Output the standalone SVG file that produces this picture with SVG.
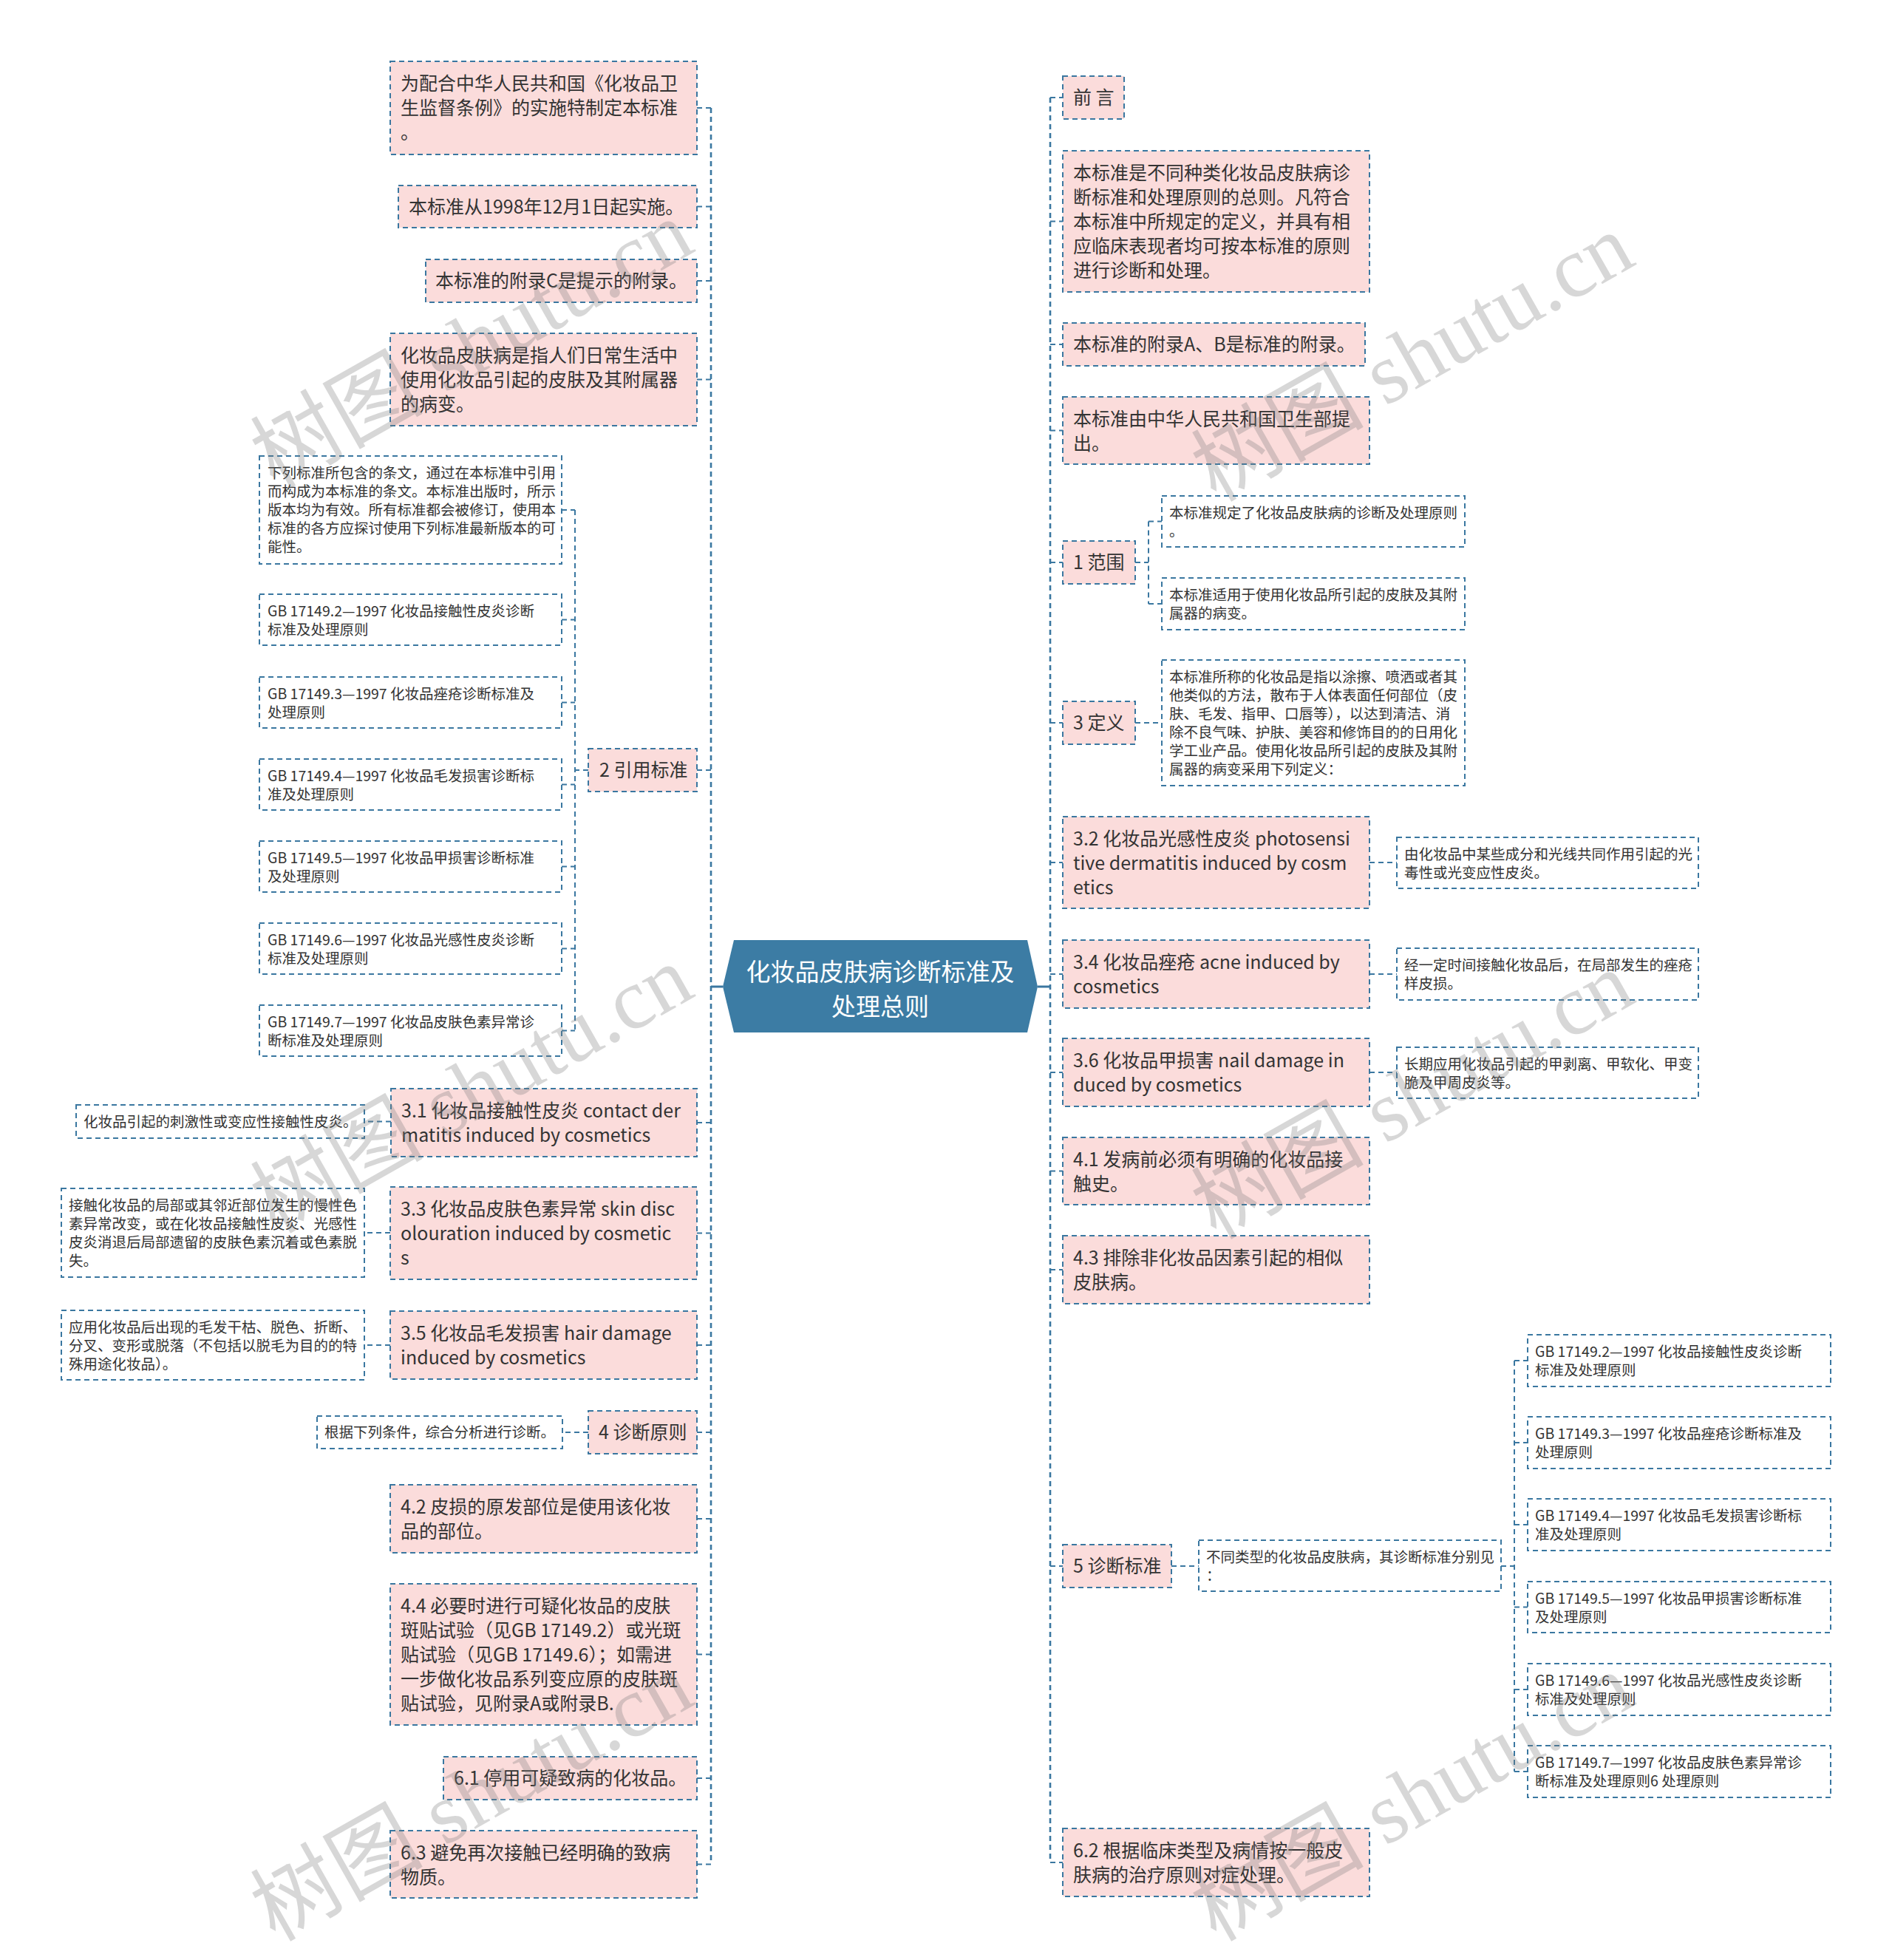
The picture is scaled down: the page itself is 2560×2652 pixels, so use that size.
<svg xmlns="http://www.w3.org/2000/svg" width="2560" height="2652" viewBox="0 0 2560 2652">
<style>
.bg{fill:#ffffff}
.n rect{fill:#fbdcdb;stroke:#3a77a0;stroke-width:2;stroke-dasharray:7 5}
.s rect{fill:#ffffff;stroke:#3a77a0;stroke-width:2;stroke-dasharray:7 5}
.n text{font-family:"Noto Sans CJK SC","Noto Sans",sans-serif;font-size:25px;fill:#333333}
.s text{font-family:"Noto Sans CJK SC","Noto Sans",sans-serif;font-size:19.5px;fill:#333333}
.c path{fill:none;stroke:#3a77a0;stroke-width:2;stroke-dasharray:7 5}
.c path.trunk{stroke-width:2.6}
.c path.solid{stroke-dasharray:none;stroke-width:3}
.wm text{font-family:"Liberation Serif","Noto Sans CJK SC",serif;font-size:117px;fill:#7a7a7a;fill-opacity:0.3}
#root polygon{fill:#3c7ca4}
#root text{font-family:"Noto Sans CJK SC","Noto Sans",sans-serif;font-size:33px;fill:#ffffff;text-anchor:middle}
</style>
<rect class="bg" x="0" y="0" width="2560" height="2652"/>

<g id="connectors" class="c">
<path class="trunk" d="M962,146 V2522"/>
<path class="trunk" d="M1421,132 V2520"/>
<path class="solid" d="M978,1335 H962"/>
<path class="solid" d="M1404,1335 H1421"/>
<path d="M943,146 H962"/>
<path d="M943,279.5 H962"/>
<path d="M943,380 H962"/>
<path d="M943,513.5 H962"/>
<path d="M943,1042 H962"/>
<path d="M943,1519 H962"/>
<path d="M943,1668.5 H962"/>
<path d="M943,1820 H962"/>
<path d="M943,1938 H962"/>
<path d="M943,2055 H962"/>
<path d="M943,2238.5 H962"/>
<path d="M943,2406 H962"/>
<path d="M943,2522.5 H962"/>
<path d="M1421,132 H1438"/>
<path d="M1421,299.5 H1438"/>
<path d="M1421,466 H1438"/>
<path d="M1421,582.5 H1438"/>
<path d="M1421,761 H1438"/>
<path d="M1421,978 H1438"/>
<path d="M1421,1167 H1438"/>
<path d="M1421,1318 H1438"/>
<path d="M1421,1451 H1438"/>
<path d="M1421,1584.5 H1438"/>
<path d="M1421,1718 H1438"/>
<path d="M1421,2119 H1438"/>
<path d="M1421,2520 H1438"/>
<path d="M796,1042 H778"/>
<path d="M778,690 V1394.5"/>
<path d="M760,690 H778"/>
<path d="M760,838.5 H778"/>
<path d="M760,950.5 H778"/>
<path d="M760,1061.5 H778"/>
<path d="M760,1172.5 H778"/>
<path d="M760,1283.5 H778"/>
<path d="M760,1394.5 H778"/>
<path d="M529,1517.5 H493"/>
<path d="M528,1668 H493"/>
<path d="M528,1820 H493"/>
<path d="M796,1938 H761"/>
<path d="M1536,761 H1554"/>
<path d="M1554,705.5 V817"/>
<path d="M1554,705.5 H1572"/>
<path d="M1554,817 H1572"/>
<path d="M1536,978 H1572"/>
<path d="M1853,1167 H1890"/>
<path d="M1853,1318 H1890"/>
<path d="M1853,1451 H1890"/>
<path d="M1585,2119 H1622"/>
<path d="M2031,2119 H2049"/>
<path d="M2049,1841 V2397"/>
<path d="M2049,1841 H2067"/>
<path d="M2049,1952 H2067"/>
<path d="M2049,2063 H2067"/>
<path d="M2049,2174.5 H2067"/>
<path d="M2049,2286 H2067"/>
<path d="M2049,2397 H2067"/>
</g>

<g id="root">
<polygon points="993,1272 1390,1272 1404,1335 1390,1397 993,1397 978,1335"/>
<text x="1191" y="1327">化妆品皮肤病诊断标准及</text>
<text x="1191" y="1374">处理总则</text>
</g>

<!-- Left side -->
<g id="L1" class="n"><rect x="528" y="83" width="415" height="126"/>
<text x="542"><tspan x="542" y="121.5">为配合中华人民共和国《化妆品卫</tspan><tspan x="542" y="154.5">生监督条例》的实施特制定本标准</tspan><tspan x="542" y="187.5">。</tspan></text></g>
<g id="L2" class="n"><rect x="539" y="251" width="404" height="57"/>
<text x="553" y="288.5">本标准从1998年12月1日起实施。</text></g>
<g id="L3" class="n"><rect x="576" y="351" width="367" height="58"/>
<text x="589" y="389">本标准的附录C是提示的附录。</text></g>
<g id="L4" class="n"><rect x="528" y="451" width="415" height="125"/>
<text x="542"><tspan x="542" y="489.5">化妆品皮肤病是指人们日常生活中</tspan><tspan x="542" y="522.5">使用化妆品引起的皮肤及其附属器</tspan><tspan x="542" y="555.5">的病变。</tspan></text></g>

<g id="L5" class="n"><rect x="796" y="1013" width="147" height="58"/>
<text x="811" y="1051">2 引用标准</text></g>
<g id="L5a" class="s"><rect x="351" y="617" width="409" height="146"/>
<text x="362"><tspan x="362" y="646.5">下列标准所包含的条文，通过在本标准中引用</tspan><tspan x="362" y="671.5">而构成为本标准的条文。本标准出版时，所示</tspan><tspan x="362" y="696.5">版本均为有效。所有标准都会被修订，使用本</tspan><tspan x="362" y="721.5">标准的各方应探讨使用下列标准最新版本的可</tspan><tspan x="362" y="746.5">能性。</tspan></text></g>
<g id="L5b" class="s"><rect x="351" y="804" width="409" height="69"/>
<text x="362"><tspan x="362" y="833.5">GB 17149.2—1997 化妆品接触性皮炎诊断</tspan><tspan x="362" y="858.5">标准及处理原则</tspan></text></g>
<g id="L5c" class="s"><rect x="351" y="916" width="409" height="69"/>
<text x="362"><tspan x="362" y="945.5">GB 17149.3—1997 化妆品痤疮诊断标准及</tspan><tspan x="362" y="970.5">处理原则</tspan></text></g>
<g id="L5d" class="s"><rect x="351" y="1027" width="409" height="69"/>
<text x="362"><tspan x="362" y="1056.5">GB 17149.4—1997 化妆品毛发损害诊断标</tspan><tspan x="362" y="1081.5">准及处理原则</tspan></text></g>
<g id="L5e" class="s"><rect x="351" y="1138" width="409" height="69"/>
<text x="362"><tspan x="362" y="1167.5">GB 17149.5—1997 化妆品甲损害诊断标准</tspan><tspan x="362" y="1192.5">及处理原则</tspan></text></g>
<g id="L5f" class="s"><rect x="351" y="1249" width="409" height="69"/>
<text x="362"><tspan x="362" y="1278.5">GB 17149.6—1997 化妆品光感性皮炎诊断</tspan><tspan x="362" y="1303.5">标准及处理原则</tspan></text></g>
<g id="L5g" class="s"><rect x="351" y="1360" width="409" height="69"/>
<text x="362"><tspan x="362" y="1389.5">GB 17149.7—1997 化妆品皮肤色素异常诊</tspan><tspan x="362" y="1414.5">断标准及处理原则</tspan></text></g>

<g id="L6" class="n"><rect x="529" y="1473" width="414" height="92"/>
<text x="543"><tspan x="543" y="1511.5">3.1 化妆品接触性皮炎 contact der</tspan><tspan x="543" y="1544.5">matitis induced by cosmetics</tspan></text></g>
<g id="L6a" class="s"><rect x="103" y="1495" width="390" height="45"/>
<text x="113" y="1524.5">化妆品引起的刺激性或变应性接触性皮炎。</text></g>

<g id="L7" class="n"><rect x="528" y="1606" width="415" height="125"/>
<text x="542"><tspan x="542" y="1644.5">3.3 化妆品皮肤色素异常 skin disc</tspan><tspan x="542" y="1677.5">olouration induced by cosmetic</tspan><tspan x="542" y="1710.5">s</tspan></text></g>
<g id="L7a" class="s"><rect x="83" y="1608" width="410" height="120"/>
<text x="93"><tspan x="93" y="1637.5">接触化妆品的局部或其邻近部位发生的慢性色</tspan><tspan x="93" y="1662.5">素异常改变，或在化妆品接触性皮炎、光感性</tspan><tspan x="93" y="1687.5">皮炎消退后局部遗留的皮肤色素沉着或色素脱</tspan><tspan x="93" y="1712.5">失。</tspan></text></g>

<g id="L8" class="n"><rect x="528" y="1774" width="415" height="92"/>
<text x="542"><tspan x="542" y="1812.5">3.5 化妆品毛发损害 hair damage</tspan><tspan x="542" y="1845.5">induced by cosmetics</tspan></text></g>
<g id="L8a" class="s"><rect x="83" y="1773" width="410" height="94"/>
<text x="93"><tspan x="93" y="1802.5">应用化妆品后出现的毛发干枯、脱色、折断、</tspan><tspan x="93" y="1827.5">分叉、变形或脱落（不包括以脱毛为目的的特</tspan><tspan x="93" y="1852.5">殊用途化妆品）。</tspan></text></g>

<g id="L9" class="n"><rect x="796" y="1909" width="147" height="58"/>
<text x="810" y="1947">4 诊断原则</text></g>
<g id="L9a" class="s"><rect x="429" y="1916" width="332" height="44"/>
<text x="439" y="1945">根据下列条件，综合分析进行诊断。</text></g>

<g id="L10" class="n"><rect x="528" y="2009" width="415" height="92"/>
<text x="542"><tspan x="542" y="2047.5">4.2 皮损的原发部位是使用该化妆</tspan><tspan x="542" y="2080.5">品的部位。</tspan></text></g>
<g id="L11" class="n"><rect x="528" y="2143" width="415" height="191"/>
<text x="542"><tspan x="542" y="2181.5">4.4 必要时进行可疑化妆品的皮肤</tspan><tspan x="542" y="2214.5">斑贴试验（见GB 17149.2）或光斑</tspan><tspan x="542" y="2247.5">贴试验（见GB 17149.6）；如需进</tspan><tspan x="542" y="2280.5">一步做化妆品系列变应原的皮肤斑</tspan><tspan x="542" y="2313.5">贴试验，见附录A或附录B.</tspan></text></g>
<g id="L12" class="n"><rect x="600" y="2377" width="343" height="58"/>
<text x="614" y="2415">6.1 停用可疑致病的化妆品。</text></g>
<g id="L13" class="n"><rect x="528" y="2477" width="415" height="91"/>
<text x="542"><tspan x="542" y="2515.5">6.3 避免再次接触已经明确的致病</tspan><tspan x="542" y="2548.5">物质。</tspan></text></g>

<!-- Right side -->
<g id="R1" class="n"><rect x="1438" y="103" width="83" height="58"/>
<text x="1452" y="141">前 言</text></g>
<g id="R2" class="n"><rect x="1438" y="204" width="415" height="191"/>
<text x="1452"><tspan x="1452" y="242.5">本标准是不同种类化妆品皮肤病诊</tspan><tspan x="1452" y="275.5">断标准和处理原则的总则。凡符合</tspan><tspan x="1452" y="308.5">本标准中所规定的定义，并具有相</tspan><tspan x="1452" y="341.5">应临床表现者均可按本标准的原则</tspan><tspan x="1452" y="374.5">进行诊断和处理。</tspan></text></g>
<g id="R3" class="n"><rect x="1438" y="437" width="409" height="58"/>
<text x="1452" y="475">本标准的附录A、B是标准的附录。</text></g>
<g id="R4" class="n"><rect x="1438" y="537" width="415" height="91"/>
<text x="1452"><tspan x="1452" y="575.5">本标准由中华人民共和国卫生部提</tspan><tspan x="1452" y="608.5">出。</tspan></text></g>

<g id="R5" class="n"><rect x="1438" y="732" width="98" height="58"/>
<text x="1452" y="770">1 范围</text></g>
<g id="R5a" class="s"><rect x="1572" y="671" width="410" height="69"/>
<text x="1582"><tspan x="1582" y="700.5">本标准规定了化妆品皮肤病的诊断及处理原则</tspan><tspan x="1582" y="725.5">。</tspan></text></g>
<g id="R5b" class="s"><rect x="1572" y="782" width="410" height="70"/>
<text x="1582"><tspan x="1582" y="811.5">本标准适用于使用化妆品所引起的皮肤及其附</tspan><tspan x="1582" y="836.5">属器的病变。</tspan></text></g>

<g id="R6" class="n"><rect x="1438" y="949" width="98" height="58"/>
<text x="1452" y="987">3 定义</text></g>
<g id="R6a" class="s"><rect x="1572" y="893" width="410" height="170"/>
<text x="1582"><tspan x="1582" y="922.5">本标准所称的化妆品是指以涂擦、喷洒或者其</tspan><tspan x="1582" y="947.5">他类似的方法，散布于人体表面任何部位（皮</tspan><tspan x="1582" y="972.5">肤、毛发、指甲、口唇等），以达到清洁、消</tspan><tspan x="1582" y="997.5">除不良气味、护肤、美容和修饰目的的日用化</tspan><tspan x="1582" y="1022.5">学工业产品。使用化妆品所引起的皮肤及其附</tspan><tspan x="1582" y="1047.5">属器的病变采用下列定义：</tspan></text></g>

<g id="R7" class="n"><rect x="1438" y="1105" width="415" height="124"/>
<text x="1452"><tspan x="1452" y="1143.5">3.2 化妆品光感性皮炎 photosensi</tspan><tspan x="1452" y="1176.5">tive dermatitis induced by cosm</tspan><tspan x="1452" y="1209.5">etics</tspan></text></g>
<g id="R7a" class="s"><rect x="1890" y="1133" width="408" height="69"/>
<text x="1900"><tspan x="1900" y="1162.5">由化妆品中某些成分和光线共同作用引起的光</tspan><tspan x="1900" y="1187.5">毒性或光变应性皮炎。</tspan></text></g>

<g id="R8" class="n"><rect x="1438" y="1272" width="415" height="92"/>
<text x="1452"><tspan x="1452" y="1310.5">3.4 化妆品痤疮 acne induced by</tspan><tspan x="1452" y="1343.5">cosmetics</tspan></text></g>
<g id="R8a" class="s"><rect x="1890" y="1283" width="408" height="70"/>
<text x="1900"><tspan x="1900" y="1312.5">经一定时间接触化妆品后，在局部发生的痤疮</tspan><tspan x="1900" y="1337.5">样皮损。</tspan></text></g>

<g id="R9" class="n"><rect x="1438" y="1405" width="415" height="92"/>
<text x="1452"><tspan x="1452" y="1443.5">3.6 化妆品甲损害 nail damage in</tspan><tspan x="1452" y="1476.5">duced by cosmetics</tspan></text></g>
<g id="R9a" class="s"><rect x="1890" y="1417" width="408" height="69"/>
<text x="1900"><tspan x="1900" y="1446.5">长期应用化妆品引起的甲剥离、甲软化、甲变</tspan><tspan x="1900" y="1471.5">脆及甲周皮炎等。</tspan></text></g>

<g id="R10" class="n"><rect x="1438" y="1539" width="415" height="91"/>
<text x="1452"><tspan x="1452" y="1577.5">4.1 发病前必须有明确的化妆品接</tspan><tspan x="1452" y="1610.5">触史。</tspan></text></g>
<g id="R11" class="n"><rect x="1438" y="1672" width="415" height="92"/>
<text x="1452"><tspan x="1452" y="1710.5">4.3 排除非化妆品因素引起的相似</tspan><tspan x="1452" y="1743.5">皮肤病。</tspan></text></g>

<g id="R12" class="n"><rect x="1438" y="2090" width="147" height="58"/>
<text x="1452" y="2128">5 诊断标准</text></g>
<g id="R12a" class="s"><rect x="1622" y="2084" width="409" height="69"/>
<text x="1632"><tspan x="1632" y="2113.5">不同类型的化妆品皮肤病，其诊断标准分别见</tspan><tspan x="1632" y="2138.5">：</tspan></text></g>
<g id="R12b" class="s"><rect x="2067" y="1806" width="410" height="70"/>
<text x="2077"><tspan x="2077" y="1835.5">GB 17149.2—1997 化妆品接触性皮炎诊断</tspan><tspan x="2077" y="1860.5">标准及处理原则</tspan></text></g>
<g id="R12c" class="s"><rect x="2067" y="1917" width="410" height="70"/>
<text x="2077"><tspan x="2077" y="1946.5">GB 17149.3—1997 化妆品痤疮诊断标准及</tspan><tspan x="2077" y="1971.5">处理原则</tspan></text></g>
<g id="R12d" class="s"><rect x="2067" y="2028" width="410" height="70"/>
<text x="2077"><tspan x="2077" y="2057.5">GB 17149.4—1997 化妆品毛发损害诊断标</tspan><tspan x="2077" y="2082.5">准及处理原则</tspan></text></g>
<g id="R12e" class="s"><rect x="2067" y="2140" width="410" height="69"/>
<text x="2077"><tspan x="2077" y="2169.5">GB 17149.5—1997 化妆品甲损害诊断标准</tspan><tspan x="2077" y="2194.5">及处理原则</tspan></text></g>
<g id="R12f" class="s"><rect x="2067" y="2251" width="410" height="70"/>
<text x="2077"><tspan x="2077" y="2280.5">GB 17149.6—1997 化妆品光感性皮炎诊断</tspan><tspan x="2077" y="2305.5">标准及处理原则</tspan></text></g>
<g id="R12g" class="s"><rect x="2067" y="2362" width="410" height="70"/>
<text x="2077"><tspan x="2077" y="2391.5">GB 17149.7—1997 化妆品皮肤色素异常诊</tspan><tspan x="2077" y="2416.5">断标准及处理原则6 处理原则</tspan></text></g>

<g id="R13" class="n"><rect x="1438" y="2474" width="415" height="92"/>
<text x="1452"><tspan x="1452" y="2512.5">6.2 根据临床类型及病情按一般皮</tspan><tspan x="1452" y="2545.5">肤病的治疗原则对症处理。</tspan></text></g>

<g id="watermarks" class="wm">
<text transform="translate(372,662) rotate(-29.5)">树图 shutu.cn</text>
<text transform="translate(1645,680) rotate(-29.5)">树图 shutu.cn</text>
<text transform="translate(372,1670) rotate(-29.5)">树图 shutu.cn</text>
<text transform="translate(1645,1678) rotate(-29.5)">树图 shutu.cn</text>
<text transform="translate(372,2628) rotate(-29.5)">树图 shutu.cn</text>
<text transform="translate(1645,2628) rotate(-29.5)">树图 shutu.cn</text>
</g>
</svg>
